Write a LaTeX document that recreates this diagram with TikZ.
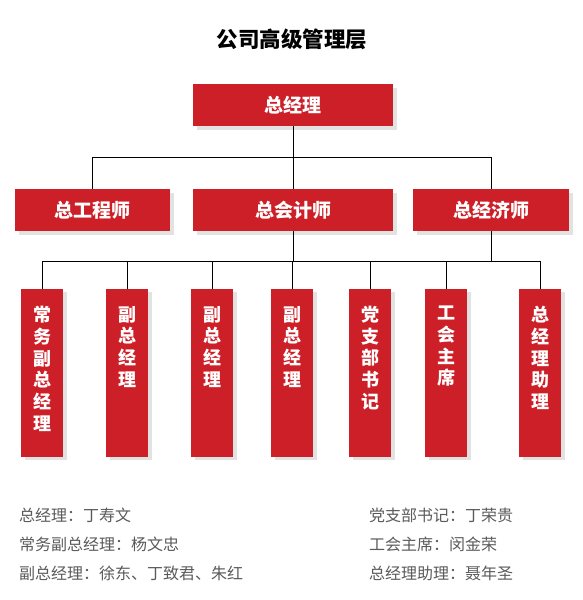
\documentclass[tikz,border=0pt]{standalone}
\usepackage{fontspec}
\setmainfont{Noto Sans CJK SC}
\usepackage{xcolor}
\definecolor{bannerred}{HTML}{CC1F27}
\definecolor{shadowgray}{HTML}{E2E2E2}
\definecolor{notegray}{HTML}{5A5A5A}
\usepackage{tikz}
\usetikzlibrary{shadows}
\tikzset{
  redbox/.style  ={fill=bannerred,text=white,inner sep=0pt,
                   general shadow={fill=shadowgray,shadow xshift=4pt,shadow yshift=-4pt},
                   font=\fontsize{19}{22}\selectfont\bfseries,minimum height=42pt},
  postbox/.style ={fill=bannerred,text=white,inner sep=0pt,anchor=north,
                   general shadow={fill=shadowgray,shadow xshift=4pt,shadow yshift=-3pt},
                   minimum width=42pt,minimum height=168pt},
  link/.style    ={draw=black,line width=1pt},
  note/.style    ={anchor=west,text=notegray,font=\fontsize{16}{19}\selectfont,inner sep=0pt},
}
\newcommand{\vtext}[1]{\parbox[c][134pt][t]{24pt}{\centering\fontsize{18}{21.7}\selectfont\bfseries #1}}

\begin{document}
\begin{tikzpicture}[x=1pt,y=-1pt]
\useasboundingbox (0,0) rectangle (583,600);
\node[font=\fontsize{21.5}{25}\selectfont\bfseries] (title) at (292,39) {公司高级管理层};
% top level
\node[redbox,minimum width=200pt] (gm) at (293,105) {总经理};
% second level
\node[redbox,minimum width=155pt] (eng) at (92,210) {总工程师};
\node[redbox,minimum width=200pt] (acc) at (293,210) {总会计师};
\node[redbox,minimum width=156pt] (eco) at (491,210) {总经济师};
% third level
\node[postbox] (p1) at (42,289)  {\vtext{常\\务\\副\\总\\经\\理}};
\node[postbox] (p2) at (127,289) {\vtext{副\\总\\经\\理}};
\node[postbox] (p3) at (212,289) {\vtext{副\\总\\经\\理}};
\node[postbox] (p4) at (292,289) {\vtext{副\\总\\经\\理}};
\node[postbox] (p5) at (370,289) {\vtext{党\\支\\部\\书\\记}};
\node[postbox] (p6) at (446,289) {\vtext{工\\会\\主\\席}};
\node[postbox] (p7) at (540,289) {\vtext{总\\经\\理\\助\\理}};
% connectors
\coordinate (busA) at (0,157);
\coordinate (busB) at (0,261);
\draw[link] (gm.south) -- (gm.south |- busA);
\draw[link] (eng.north |- busA) -- (eco.north |- busA);
\foreach \n in {eng,acc,eco}
  \draw[link] (\n.north |- busA) -- (\n.north);
\draw[link] (acc.south) -- (acc.south |- busB);
\draw[link] (eco.south) -- (eco.south |- busB);
\draw[link] (p1.north |- busB) -- (p7.north |- busB);
\foreach \n in {p1,p2,p3,p4,p5,p6,p7}
  \draw[link] (\n.north |- busB) -- (\n.north);
% names
\node[note] (n1) at (19,515) {总经理：丁寿文};
\node[note] (n2) at (19,544) {常务副总经理：杨文忠};
\node[note] (n3) at (19,573) {副总经理：徐东、丁致君、朱红};
\node[note] (n4) at (369,515) {党支部书记：丁荣贵};
\node[note] (n5) at (369,544) {工会主席：闵金荣};
\node[note] (n6) at (369,573) {总经理助理：聂年圣};
\end{tikzpicture}
\end{document}
